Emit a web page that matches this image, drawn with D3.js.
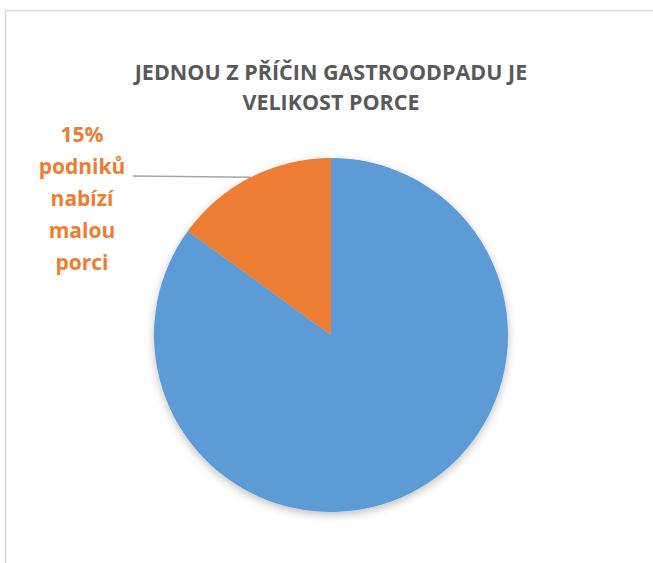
<!DOCTYPE html>
<html>
<head>
<meta charset="utf-8">
<script src="https://cdn.jsdelivr.net/npm/d3@7"></script>
<style>
  body { margin: 0; background: #fff; }
  svg { display: block; }
</style>
</head>
<body>
<div id="chart"></div>
<script>
var svgWidth = 653;
var svgHeight = 563;

// data
var categories = ["ostatní podniky", "malá porce"];
var values = [85, 15];
var colors = ["#5B9BD5", "#ED7D31"];
var titleLines = ["JEDNOU Z PŘÍČIN GASTROODPADU JE", "VELIKOST PORCE"];
var labelLines = ["15%", "podniků", "nabízí", "malou", "porci"];

var cx = 331, cy = 335, radius = 177;

var svg = d3.select("#chart")
  .append("svg")
  .attr("width", svgWidth)
  .attr("height", svgHeight);

// soft shadow under the pie
var defs = svg.append("defs");
var filter = defs.append("filter")
  .attr("id", "shadow")
  .attr("x", "-20%").attr("y", "-20%")
  .attr("width", "140%").attr("height", "140%");
filter.append("feDropShadow")
  .attr("dx", 0).attr("dy", 3)
  .attr("stdDeviation", 4)
  .attr("flood-color", "#000")
  .attr("flood-opacity", 0.25);

// chart border (top and left visible)
svg.append("path")
  .attr("d", "M5.5,563 L5.5,10.5 L653,10.5")
  .attr("fill", "none")
  .attr("stroke", "#d9d9d9")
  .attr("stroke-width", 1.5);

// title
svg.append("g")
  .selectAll("text")
  .data(titleLines)
  .enter()
  .append("text")
  .attr("x", 331)
  .attr("y", (d, i) => 80 + i * 29.5)
  .attr("text-anchor", "middle")
  .attr("font-family", "'Open Sans', sans-serif")
  .attr("font-weight", "bold")
  .attr("font-size", "21.5px")
  .attr("fill", "#595959")
  .text(d => d);

// pie, first slice goes clockwise from 12 o'clock, second fills the rest
var pie = d3.pie()
  .sort(null)
  .startAngle(0)
  .endAngle(2 * Math.PI)
  .value(d => d);

var arc = d3.arc()
  .innerRadius(0)
  .outerRadius(radius);

var pieGroup = svg.append("g")
  .attr("transform", `translate(${cx}, ${cy})`)
  .attr("filter", "url(#shadow)");

var arcs = pie(values);

pieGroup.selectAll("path")
  .data(arcs)
  .enter()
  .append("path")
  .attr("d", arc)
  .attr("fill", (d, i) => colors[i]);

// leader line for the small slice, ends at the slice's mid angle
var small = arcs[1];
var midAngle = (small.startAngle + small.endAngle) / 2;
var ax = cx + Math.sin(midAngle) * radius;
var ay = cy - Math.cos(midAngle) * radius;

svg.append("line")
  .attr("x1", 133)
  .attr("y1", 176)
  .attr("x2", ax)
  .attr("y2", ay)
  .attr("stroke", "#a6a6a6")
  .attr("stroke-width", 1.5);

// data label
svg.append("g")
  .selectAll("text")
  .data(labelLines)
  .enter()
  .append("text")
  .attr("x", 82)
  .attr("y", (d, i) => 142 + i * 32)
  .attr("text-anchor", "middle")
  .attr("font-family", "'Open Sans', sans-serif")
  .attr("font-weight", "bold")
  .attr("font-size", "21px")
  .attr("fill", "#ED7D31")
  .text(d => d);
</script>
</body>
</html>
